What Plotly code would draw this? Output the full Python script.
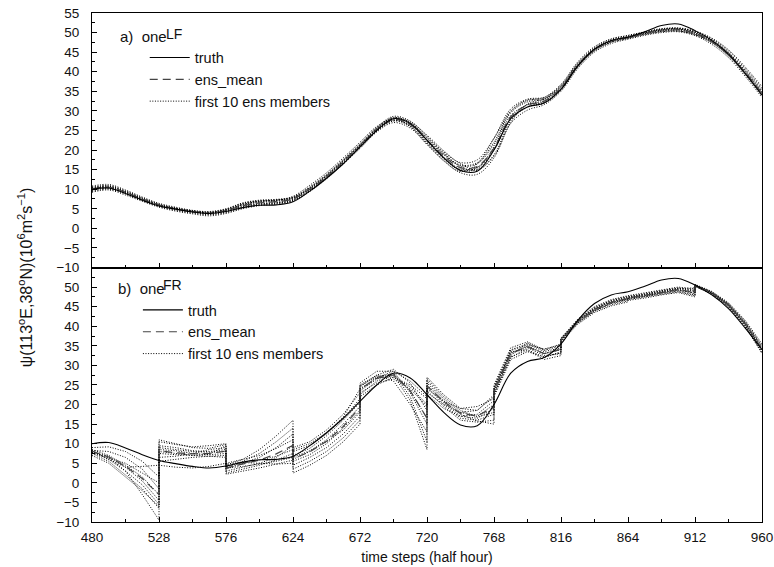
import plotly.graph_objects as go
from plotly.subplots import make_subplots

# ---------------- data ----------------
TIME_TOP = list(range(480, 961, 12))
WINDOW_STARTS = [480, 528, 576, 624, 672, 720, 768, 816, 864, 912]
WINDOW_OFFSETS = [0, 12, 24, 36, 48]
TIME_BOTTOM = [s + o for s in WINDOW_STARTS for o in WINDOW_OFFSETS]

X_TICKS = [480, 528, 576, 624, 672, 720, 768, 816, 864, 912, 960]
Y_TICKS_TOP = [-10, -5, 0, 5, 10, 15, 20, 25, 30, 35, 40, 45, 50, 55]
Y_TICKS_BOTTOM = [-10, -5, 0, 5, 10, 15, 20, 25, 30, 35, 40, 45, 50]

TRUTH = [10.0, 10.3, 8.9, 7.2, 5.7, 4.9, 4.2, 3.8, 4.3, 5.3, 5.9, 6.0, 6.8, 9.5, 12.8,
         16.5, 20.8, 25.0, 28.0, 26.8, 22.5, 18.0, 14.8, 14.6, 20.0, 28.0, 31.0, 32.0,
         35.5, 41.5, 45.8, 48.0, 48.8, 50.2, 51.8, 52.2, 50.5, 48.0, 44.5, 39.5, 34.0]

ENS_MEAN_LF = [10.0, 10.5, 9.2, 7.5, 6.0, 5.0, 4.3, 3.9, 4.5, 5.8, 6.5, 6.8, 7.5, 10.0, 13.2,
               17.0, 21.0, 25.2, 27.8, 26.5, 22.5, 18.5, 15.5, 15.8, 20.5, 28.5, 31.5, 32.5,
               35.8, 41.5, 45.6, 47.8, 48.8, 49.8, 50.6, 50.8, 49.8, 47.8, 44.5, 39.8, 34.5]

MEMBERS_LF = [
    [10.8, 11.2, 9.8, 8.0, 6.4, 5.4, 4.6, 4.3, 5.0, 6.5, 7.2, 7.4, 8.0, 10.6, 13.8, 17.6, 21.6, 25.8, 28.6, 27.4, 23.5, 19.5, 16.8, 17.5, 23.0, 30.0, 32.8, 33.2, 36.5, 42.2, 46.2, 48.3, 49.2, 50.1, 50.9, 51.0, 50.2, 48.4, 45.3, 40.8, 35.8],
    [9.2, 9.8, 8.5, 6.9, 5.4, 4.4, 3.7, 3.2, 3.8, 5.0, 5.8, 6.2, 7.0, 9.4, 12.6, 16.4, 20.4, 24.6, 27.0, 25.6, 21.4, 17.4, 14.2, 13.8, 18.0, 26.8, 30.2, 31.6, 35.0, 40.8, 45.0, 47.2, 48.3, 49.3, 50.0, 50.2, 49.2, 47.0, 43.6, 38.8, 33.4],
    [10.4, 10.9, 9.6, 7.8, 6.2, 5.2, 4.5, 4.0, 4.6, 6.0, 6.8, 7.1, 7.7, 10.2, 13.4, 17.2, 21.2, 25.5, 28.2, 27.2, 23.8, 19.8, 16.5, 15.0, 18.5, 27.0, 31.8, 33.0, 36.2, 41.8, 45.8, 48.0, 49.0, 50.0, 50.8, 51.1, 50.2, 48.2, 44.9, 40.2, 35.0],
    [9.6, 10.2, 8.9, 7.2, 5.7, 4.8, 4.1, 3.6, 4.2, 5.5, 6.2, 6.5, 7.2, 9.7, 12.9, 16.7, 20.7, 24.9, 27.5, 26.0, 21.8, 17.8, 14.8, 15.2, 20.0, 28.0, 31.0, 32.0, 35.4, 41.2, 45.4, 47.6, 48.6, 49.6, 50.3, 50.4, 49.4, 47.4, 44.0, 39.2, 33.8],
    [10.2, 10.7, 9.4, 7.7, 6.1, 5.1, 4.4, 4.0, 4.8, 6.3, 7.0, 7.3, 7.8, 10.3, 13.5, 17.3, 21.3, 25.4, 28.0, 26.9, 23.2, 19.2, 16.0, 16.5, 21.5, 29.5, 32.3, 33.0, 36.0, 41.6, 45.7, 47.9, 48.9, 49.9, 50.7, 50.9, 49.9, 47.9, 44.6, 40.0, 34.8],
    [9.8, 10.3, 9.0, 7.3, 5.8, 4.9, 4.2, 3.8, 4.4, 5.6, 6.3, 6.6, 7.4, 9.9, 13.1, 16.9, 20.9, 25.0, 27.6, 26.2, 22.0, 18.0, 15.0, 15.5, 20.8, 28.8, 31.5, 32.3, 35.6, 41.4, 45.5, 47.7, 48.7, 49.7, 50.4, 50.6, 49.6, 47.6, 44.2, 39.5, 34.2],
    [10.6, 10.8, 9.3, 7.4, 5.9, 5.1, 4.5, 4.1, 4.9, 6.4, 7.0, 7.2, 8.2, 11.0, 14.2, 18.0, 22.0, 26.0, 28.0, 26.0, 21.5, 17.2, 14.5, 16.5, 23.0, 30.5, 33.0, 33.5, 36.8, 42.5, 46.4, 48.4, 49.3, 50.2, 51.0, 51.2, 50.4, 48.6, 45.6, 41.2, 36.2],
    [9.4, 10.0, 8.8, 7.1, 5.6, 4.6, 3.9, 3.5, 4.0, 5.2, 6.0, 6.4, 7.1, 9.6, 12.8, 16.6, 20.6, 24.8, 27.4, 26.4, 22.6, 18.8, 15.8, 14.8, 18.8, 27.5, 31.0, 32.2, 35.5, 41.2, 45.3, 47.5, 48.5, 49.5, 50.2, 50.4, 49.5, 47.5, 44.2, 39.6, 34.4],
    [10.1, 10.6, 9.3, 7.6, 6.0, 5.0, 4.3, 3.9, 4.6, 5.9, 6.6, 6.9, 7.6, 10.1, 13.3, 17.1, 21.1, 25.3, 27.9, 26.6, 22.4, 18.2, 15.2, 15.6, 20.2, 28.2, 31.6, 32.6, 35.9, 41.6, 45.6, 47.8, 48.8, 49.8, 50.6, 50.8, 49.8, 47.8, 44.5, 39.8, 34.5],
    [10.3, 10.4, 9.1, 7.5, 6.0, 5.1, 4.4, 4.1, 4.7, 6.1, 6.9, 7.2, 7.9, 10.4, 13.6, 17.4, 21.4, 25.6, 28.3, 27.0, 23.0, 19.0, 16.2, 16.8, 22.0, 29.8, 32.6, 33.4, 36.4, 42.0, 45.9, 48.0, 48.9, 49.9, 50.7, 51.0, 50.1, 48.1, 44.8, 40.4, 35.4],
]

# bottom panel: 10 forecast windows of 48 steps, values at offsets 0,12,24,36,48
ENS_MEAN_FR = [8.1, 6.6, 4.2, 1.1, -3.0,  8.2, 7.7, 7.4, 7.5, 8.1,  3.8, 4.8, 5.8, 7.4, 9.6,
               6.2, 7.9, 10.6, 14.4, 19.3,  23.9, 26.7, 27.6, 23.5, 16.5,  24.8, 20.7, 17.7, 17.1, 19.3,
               23.5, 33.0, 34.7, 33.0, 34.1,  36.5, 41.2, 44.3, 46.1, 47.1,  47.2, 47.9, 48.7, 49.4, 48.6,
               50.4, 48.5, 45.4, 40.6, 34.2]

MEMBERS_FR = [
    [8.0, 6.5, 3.0, -3.0, -9.5, 10.5, 9.8, 9.2, 9.5, 10.0, 4.5, 6.0, 8.5, 12.0, 16.0, 9.0, 10.5, 13.5, 17.5, 23.0, 25.5, 28.5, 28.5, 23.0, 15.0, 27.0, 22.5, 19.0, 18.5, 22.0, 24.5, 34.0, 35.5, 33.5, 34.5, 36.5, 41.2, 44.2, 46.0, 47.0, 47.2, 47.8, 48.5, 49.2, 48.5, 50.5, 48.5, 45.5, 40.5, 34.0],
    [7.5, 5.5, 2.0, -1.5, -6.5, 9.5, 9.0, 8.2, 8.0, 8.5, 4.0, 5.5, 7.5, 10.5, 14.0, 8.0, 9.5, 12.5, 16.5, 21.5, 24.5, 27.5, 29.0, 25.5, 18.5, 26.0, 21.5, 18.0, 17.0, 20.0, 23.5, 33.0, 35.0, 33.0, 34.0, 36.8, 41.5, 44.8, 46.5, 47.5, 47.5, 48.2, 49.0, 49.8, 49.2, 50.2, 48.2, 45.0, 40.0, 33.5],
    [8.2, 6.0, 3.0, -0.5, -5.5, 8.5, 8.2, 7.5, 7.2, 7.5, 3.5, 5.0, 6.5, 9.0, 12.5, 7.0, 8.8, 12.0, 16.0, 20.5, 23.5, 26.5, 28.0, 22.0, 10.5, 25.0, 20.5, 17.0, 16.5, 19.0, 22.5, 32.0, 34.5, 32.5, 33.0, 36.2, 40.8, 43.8, 45.5, 46.5, 46.8, 47.5, 48.2, 48.8, 47.8, 50.6, 48.8, 45.8, 41.0, 34.8],
    [7.8, 6.8, 4.0, 0.5, -4.5, 7.5, 7.2, 7.0, 7.3, 9.5, 5.0, 6.0, 7.0, 8.8, 11.0, 6.0, 8.0, 11.0, 15.0, 19.5, 22.5, 26.0, 27.5, 21.0, 8.5, 24.5, 20.0, 16.5, 16.0, 17.5, 24.0, 33.5, 34.0, 32.0, 33.5, 37.0, 41.8, 45.0, 46.8, 47.8, 47.8, 48.5, 49.3, 50.0, 49.5, 50.3, 48.3, 45.2, 40.2, 33.0],
    [8.5, 7.0, 4.5, 1.5, -3.0, 6.5, 6.8, 7.5, 8.5, 9.0, 3.0, 4.0, 5.0, 6.5, 9.5, 5.5, 7.2, 10.0, 14.0, 18.5, 24.0, 27.0, 27.0, 24.5, 20.0, 23.5, 19.5, 16.0, 15.5, 16.0, 23.0, 32.5, 35.8, 33.8, 35.0, 36.4, 41.0, 44.0, 45.8, 46.8, 47.0, 47.6, 48.4, 49.0, 48.0, 50.7, 48.9, 46.0, 41.5, 35.5],
    [7.0, 5.0, 1.5, -2.0, -6.0, 11.0, 10.0, 9.0, 8.8, 9.8, 4.2, 5.0, 5.8, 6.8, 8.5, 4.5, 6.5, 9.0, 12.5, 17.0, 23.0, 25.5, 26.5, 24.0, 19.5, 22.5, 19.0, 17.0, 17.5, 21.0, 22.0, 31.5, 33.5, 32.2, 33.2, 36.6, 41.3, 44.5, 46.2, 47.2, 47.4, 48.0, 48.8, 49.5, 48.8, 50.4, 48.4, 45.4, 40.6, 34.2],
    [8.3, 8.0, 6.5, 3.5, -1.5, 8.0, 7.5, 7.0, 6.8, 7.0, 2.5, 3.5, 4.5, 5.8, 7.5, 3.5, 5.5, 8.0, 11.5, 16.0, 25.0, 27.5, 26.0, 20.0, 13.0, 26.5, 22.0, 18.5, 16.8, 18.0, 25.0, 34.5, 36.0, 34.0, 35.5, 36.0, 40.5, 43.5, 45.2, 46.2, 46.6, 47.2, 48.0, 48.6, 47.5, 50.5, 48.6, 45.6, 40.8, 34.5],
    [7.6, 6.2, 5.0, 2.5, 0.0, 5.5, 6.0, 6.5, 6.8, 6.5, 3.8, 4.2, 4.8, 5.5, 6.5, 2.5, 4.5, 7.0, 10.5, 15.0, 22.0, 25.0, 27.0, 25.0, 21.5, 23.0, 20.0, 18.0, 18.5, 22.5, 23.8, 33.2, 34.8, 33.0, 34.2, 36.9, 41.6, 44.6, 46.6, 47.6, 47.6, 48.3, 49.1, 49.7, 49.0, 50.2, 48.1, 44.9, 39.8, 33.2],
    [8.0, 6.0, 4.0, 4.2, 4.5, 4.5, 4.0, 3.8, 4.2, 5.0, 2.2, 3.0, 3.8, 4.8, 5.8, 8.5, 10.0, 12.8, 16.8, 24.0, 23.8, 26.8, 28.5, 26.0, 22.0, 25.5, 21.0, 17.5, 15.8, 15.0, 22.8, 32.2, 33.8, 31.5, 32.5, 36.3, 40.9, 43.9, 45.9, 46.9, 47.1, 47.7, 48.6, 49.3, 48.3, 50.6, 48.7, 45.7, 41.2, 35.0],
    [9.0, 9.2, 8.0, 5.5, 1.5, 9.0, 8.5, 8.0, 7.8, 8.0, 4.8, 5.2, 5.0, 4.8, 5.0, 6.5, 8.2, 10.5, 13.5, 18.0, 24.8, 27.2, 27.8, 23.5, 16.5, 24.0, 20.8, 19.0, 19.5, 21.5, 24.2, 33.8, 35.2, 34.2, 35.2, 36.7, 41.4, 44.4, 46.3, 47.3, 47.3, 48.1, 48.9, 49.6, 49.8, 50.4, 48.5, 45.3, 40.4, 34.0],
]

# ---------------- figure ----------------
FONT = "Liberation Sans, Arial, Helvetica, sans-serif"
TXT = "#111111"
DOT = "1px,1.6px"
DASH = "8px,5px"

fig = make_subplots(rows=2, cols=1, shared_xaxes=True, vertical_spacing=0)

panels = [
    (1, "legend", TIME_TOP, ENS_MEAN_LF, MEMBERS_LF, "spline"),
    (2, "legend2", TIME_BOTTOM, ENS_MEAN_FR, MEMBERS_FR, "linear"),
]
for row, leg, tx, mean, members, shape in panels:
    for i, m in enumerate(members):
        fig.add_trace(go.Scatter(
            x=tx, y=m, mode="lines", name="first 10 ens members",
            line=dict(color="#000000", width=1, dash=DOT, shape=shape),
            legend=leg, legendgroup="mem%d" % row, showlegend=(i == 0), legendrank=3,
            hoverinfo="skip"), row=row, col=1)
    fig.add_trace(go.Scatter(
        x=tx, y=mean, mode="lines", name="ens_mean",
        line=dict(color="#444444", width=1.2, dash=DASH, shape=shape),
        legend=leg, legendrank=2), row=row, col=1)
    fig.add_trace(go.Scatter(
        x=TIME_TOP, y=TRUTH, mode="lines", name="truth",
        line=dict(color="#000000", width=1.1, shape="spline"),
        legend=leg, legendrank=1), row=row, col=1)

axis_common = dict(
    showline=True, linecolor="black", linewidth=1, mirror=True, automargin=False,
    showgrid=False, zeroline=False, ticks="inside", tickcolor="black",
    ticklen=5, tickwidth=1, tickfont=dict(family=FONT, size=13.5, color=TXT),
)
fig.update_xaxes(range=[480, 960], tickvals=X_TICKS, ticklabelstandoff=3,
                 minor=dict(tick0=480, dtick=24, ticks="inside", ticklen=3, tickcolor="black"),
                 **axis_common)
fig.update_xaxes(showticklabels=False, row=1, col=1)
fig.update_xaxes(title=dict(text="time steps (half hour)", standoff=7,
                            font=dict(family=FONT, size=14, color=TXT)), row=2, col=1)
fig.update_yaxes(range=[-10, 55],
                 minor=dict(tick0=0, dtick=2.5, ticks="inside", ticklen=3, tickcolor="black"),
                 ticklabelstandoff=9, **axis_common)
fig.update_yaxes(tickvals=Y_TICKS_TOP, row=1, col=1)
fig.update_yaxes(tickvals=Y_TICKS_BOTTOM, row=2, col=1)

legend_common = dict(font=dict(family=FONT, size=14.5, color=TXT),
                     bgcolor="rgba(0,0,0,0)", itemwidth=40, tracegroupgap=0,
                     xanchor="left", yanchor="top", traceorder="normal")


def label(text, x, y, size):
    return dict(text=text, xref="paper", yref="paper", x=x, y=y,
                xanchor="left", yanchor="middle", showarrow=False,
                font=dict(family=FONT, size=size, color=TXT))


fig.update_layout(
    width=774, height=567,
    margin=dict(l=92, r=12, t=13, b=45, autoexpand=False),
    paper_bgcolor="white", plot_bgcolor="white",
    font=dict(family=FONT, size=14, color=TXT),
    legend=dict(x=0.0787, y=0.944, **legend_common),
    legend2=dict(x=0.0685, y=0.448, **legend_common),
    annotations=[
        label("a)  one", 0.0386, 0.953, 15),
        label("LF", 0.1075, 0.959, 14),
        label("b)  one", 0.0356, 0.4578, 15),
        label("FR", 0.1035, 0.4655, 14),
        dict(text="\u03c8(113<sup>o</sup>E,38<sup>o</sup>N)(10<sup>6</sup>m<sup>2</sup>s<sup>\u22121</sup>)",
             xref="paper", yref="paper", x=-0.1, y=0.481, textangle=-90,
             xanchor="center", yanchor="middle", showarrow=False,
             font=dict(family=FONT, size=16, color=TXT)),
    ],
)

fig.write_html("out.html", config={"displayModeBar": False},
               post_script="document.body.style.margin='0px';document.body.style.overflow='hidden';")
